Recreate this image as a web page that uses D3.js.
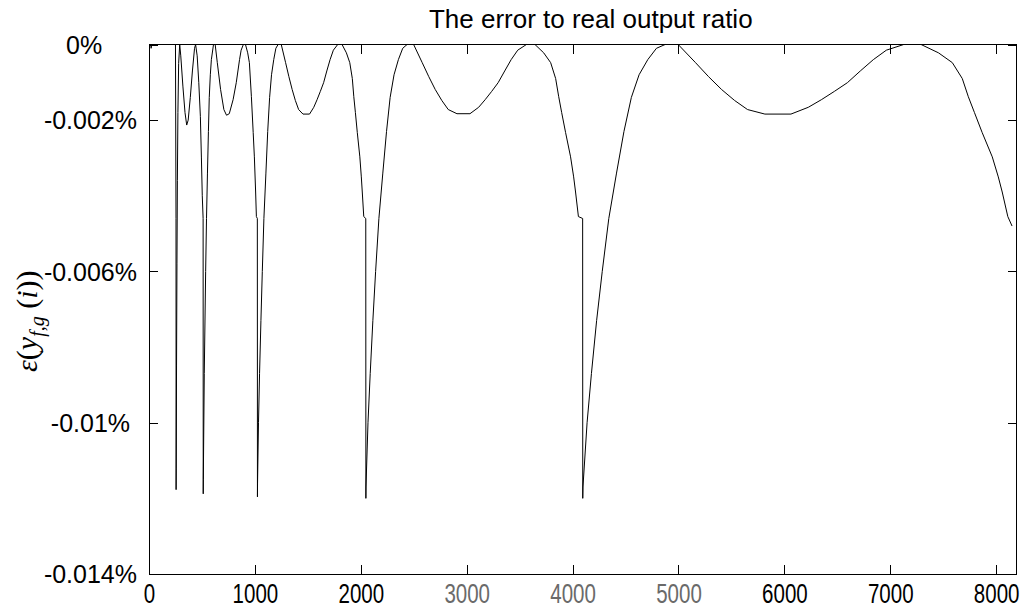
<!DOCTYPE html>
<html>
<head>
<meta charset="utf-8">
<script src="https://cdn.jsdelivr.net/npm/d3@7"></script>
<style>
  body { margin: 0; background: #fff; }
  svg { display: block; }
</style>
</head>
<body>
<div id="chart"></div>
<script>
// sample index i and the error ratio in % (one octave per line)
const sampleIdx = [
  1, 16, 20, 26, 250, 255,
  256, 257, 260, 264, 268, 273, 280, 290, 300, 320, 340, 356, 370, 390, 410, 430, 440, 455, 470, 485, 495, 503, 511,
  512, 513, 522, 535, 543, 552, 561, 569, 579, 589, 609, 625, 645, 676, 707, 732, 758, 794, 824, 855, 870, 891, 911, 932, 948, 967, 984, 995, 1007, 1014, 1023,
  1024, 1025, 1034, 1044, 1057, 1070, 1085, 1104, 1121, 1139, 1157, 1178, 1198, 1219, 1249, 1290, 1321, 1352, 1382, 1413, 1454, 1516, 1556, 1587, 1618, 1649, 1679, 1710, 1741, 1782, 1823, 1864, 1896, 1920, 1934, 1949, 1967, 1991, 2005, 2014, 2028, 2047,
  2048, 2049, 2068, 2089, 2114, 2140, 2171, 2208, 2243, 2277, 2314, 2355, 2396, 2437, 2499, 2580, 2642, 2703, 2765, 2826, 2908, 3031, 3113, 3174, 3236, 3297, 3359, 3420, 3482, 3564, 3645, 3727, 3793, 3840, 3869, 3897, 3934, 3981, 4010, 4028, 4055, 4095,
  4096, 4098, 4137, 4178, 4227, 4280, 4342, 4415, 4485, 4555, 4628, 4710, 4792, 4874, 4997, 5161, 5284, 5407, 5530, 5652, 5816, 6062, 6226, 6349, 6472, 6595, 6717, 6840, 6963, 7127, 7291, 7455, 7586, 7680, 7737, 7795, 7868, 7963, 8020, 8057, 8110, 8150
];
const errorPct = [
  0, 0, -0.0001, 0, 0, -0.0046,
  -0.01177, -0.0112, -0.0085, -0.0058, -0.0036, -0.0018, -0.0005, 0, -0.0003, -0.0011, -0.0018, -0.00213, -0.0020, -0.0014, -0.0007, -0.0001, 0, -0.0003, -0.0010, -0.0019, -0.0030, -0.0040, -0.0046,
  -0.01188, -0.0115, -0.0087, -0.0060, -0.0046, -0.0034, -0.0023, -0.0014, -0.0008, -0.0004, 0, 0, -0.00048, -0.00119, -0.00172, -0.00187, -0.00183, -0.00146, -0.00101, -0.0004, -0.00015, 0, 0, -0.00022, -0.00048, -0.00138, -0.00233, -0.00297, -0.0039, -0.00455, -0.0046,
  -0.01196, -0.0116, -0.0100, -0.0087, -0.0073, -0.0060, -0.0046, -0.0034, -0.0023, -0.0014, -0.0008, -0.0004, -0.0001, 0, 0, -0.00048, -0.00085, -0.00119, -0.00148, -0.00172, -0.00184, -0.00184, -0.00166, -0.00146, -0.00124, -0.00101, -0.0007, -0.0004, -0.00015, 0, 0, -0.00022, -0.00048, -0.0009, -0.00138, -0.0018, -0.00233, -0.00297, -0.0035, -0.0039, -0.00455, -0.0046,
  -0.0120, -0.0117, -0.0100, -0.0087, -0.0073, -0.0060, -0.0046, -0.0034, -0.0023, -0.0014, -0.0008, -0.0004, -0.0001, 0, 0, -0.00048, -0.00085, -0.00119, -0.00148, -0.00172, -0.00183, -0.00183, -0.00166, -0.00146, -0.00124, -0.00101, -0.0007, -0.0004, -0.00015, 0, 0, -0.00022, -0.00048, -0.0009, -0.00138, -0.0018, -0.00233, -0.00297, -0.0035, -0.0039, -0.00455, -0.0046,
  -0.0120, -0.0117, -0.0100, -0.0087, -0.0073, -0.0060, -0.0046, -0.0034, -0.0023, -0.0014, -0.0008, -0.0004, -0.0001, 0, 0, -0.00048, -0.00085, -0.00119, -0.00148, -0.00172, -0.00184, -0.00184, -0.00166, -0.00146, -0.00124, -0.00101, -0.0007, -0.0004, -0.00015, 0, 0, -0.00022, -0.00048, -0.0009, -0.00138, -0.0018, -0.00233, -0.00297, -0.0035, -0.0039, -0.00455, -0.0048
];
const xTicks = [0, 1000, 2000, 3000, 4000, 5000, 6000, 7000, 8000];
const yTicks = [0, -0.002, -0.006, -0.01, -0.014];
const xMax = 8192;
const chartTitle = "The error to real output ratio";

const data = sampleIdx.map((d, i) => ({i: d, e: errorPct[i]}));

// set the dimensions and margins of the graph
const margin = {top: 44.5, right: 8.5, bottom: 37, left: 149},
    width = 1025 - margin.left - margin.right,
    height = 611 - margin.top - margin.bottom;

const svg = d3.select("#chart")
  .append("svg")
    .attr("width", 1025)
    .attr("height", 611)
    .style("font-family", "'Liberation Sans', Arial, sans-serif")
  .append("g")
    .attr("transform", `translate(${margin.left},${margin.top})`);

const x = d3.scaleLinear().domain([0, xMax]).range([0, width]);
const y = d3.scaleLinear().domain([-0.014, 0]).range([height, 0]);

// the curve
svg.append("path")
  .datum(data)
  .attr("fill", "none")
  .attr("stroke", "#000")
  .attr("stroke-width", 1)
  .attr("d", d3.line().x(d => x(d.i)).y(d => y(d.e)));

// bottom axis, ticks pointing in
const xAxis = svg.append("g")
  .attr("transform", `translate(0,${height})`)
  .call(d3.axisBottom(x).tickValues(xTicks).tickSizeInner(-9).tickSizeOuter(0).tickPadding(10)
    .tickFormat(d3.format("d")));
xAxis.select(".domain").remove();
// the x labels in the picture are narrow, so squeeze them horizontally
xAxis.selectAll("text")
  .attr("font-size", 27)
  .attr("transform", "scale(0.76,1)")
  .attr("fill", d => (d >= 3000 && d <= 5000) ? "#6a6a6a" : "#000");

// top axis, ticks only
const xTop = svg.append("g")
  .call(d3.axisTop(x).tickValues(xTicks).tickSizeInner(-9).tickSizeOuter(0).tickFormat(""));
xTop.select(".domain").remove();

// left axis; labels are right aligned as if padded to 7 characters with spaces
const yFmt = d => d + "%";
const yAxis = svg.append("g")
  .call(d3.axisLeft(y).tickValues(yTicks).tickSizeInner(-9).tickSizeOuter(0).tickFormat(yFmt));
yAxis.select(".domain").remove();
yAxis.selectAll("text")
  .attr("font-size", 25)
  .attr("x", -12)
  .attr("dx", d => -(7 - yFmt(d).length) * 0.278 + "em")
  .attr("dy", "0.35em");

// right axis, ticks only
const yRight = svg.append("g")
  .attr("transform", `translate(${width},0)`)
  .call(d3.axisRight(y).tickValues(yTicks).tickSizeInner(-9).tickSizeOuter(0).tickFormat(""));
yRight.select(".domain").remove();

svg.selectAll(".tick line").attr("stroke", "#000").attr("shape-rendering", "crispEdges");

// box
svg.append("rect")
  .attr("width", width)
  .attr("height", height)
  .attr("fill", "none")
  .attr("stroke", "#000")
  .attr("shape-rendering", "crispEdges");

// title
svg.append("text")
  .attr("x", width / 2 + 8)
  .attr("y", -17)
  .attr("text-anchor", "middle")
  .attr("font-size", 26)
  .text(chartTitle);

// y label: epsilon(y_{f,g} (i))
const ylab = svg.append("text")
  .attr("transform", `translate(${-112},${height / 2 + 12}) rotate(-90)`)
  .attr("text-anchor", "middle")
  .attr("font-family", "'Liberation Serif', 'DejaVu Serif', serif")
  .attr("font-size", 30);
ylab.append("tspan").attr("font-style", "italic").text("ε");
ylab.append("tspan").text("(");
ylab.append("tspan").attr("font-style", "italic").text("y");
ylab.append("tspan").attr("font-style", "italic").attr("font-size", 20).attr("dy", 7).text("f,g");
ylab.append("tspan").attr("dy", -7).text(" (");
ylab.append("tspan").attr("font-style", "italic").text("i");
ylab.append("tspan").text("))");
</script>
</body>
</html>
